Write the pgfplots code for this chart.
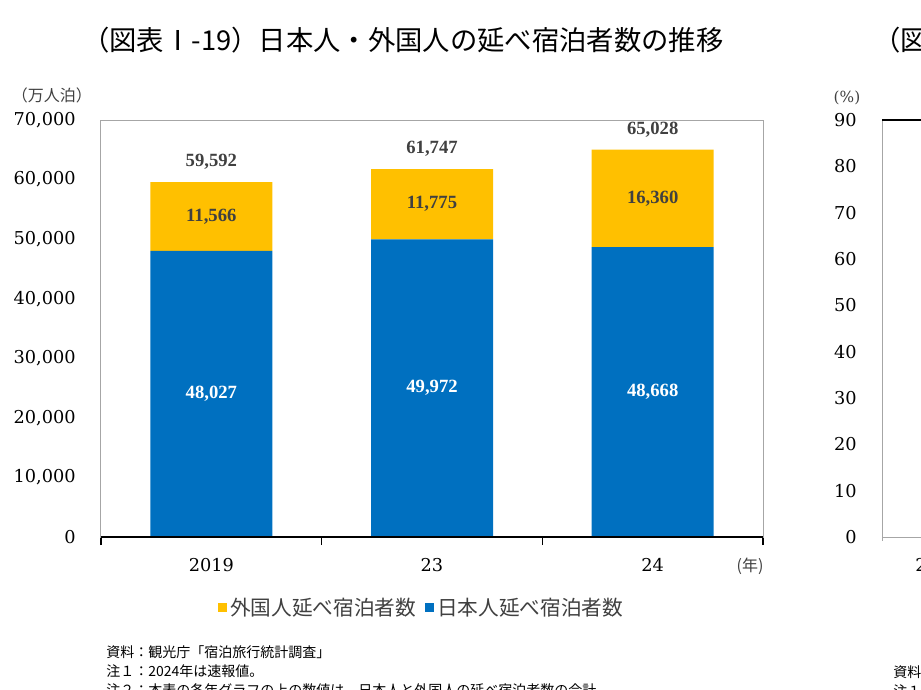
\documentclass[border=0pt]{standalone}
\usepackage{pgfplots}
\pgfplotsset{compat=1.18}
\usepackage{pgfplotstable}
\usepackage{fontspec}
\setmainfont{DejaVu Serif}
\newfontfamily\jp{Noto Sans CJK JP}
\newfontfamily\lbf{Liberation Serif}
\definecolor{blu}{HTML}{0070C0}
\definecolor{yel}{HTML}{FFC000}
\definecolor{lbl}{HTML}{404040}
\definecolor{frm}{HTML}{A6A6A6}
\newcommand{\tickf}{\fontsize{13.3pt}{14pt}\selectfont}
\newcommand{\lblf}{\lbf\bfseries\fontsize{14pt}{15pt}\selectfont}

\pgfplotstableread{
x jp fo
0 48027 11566
1 49972 11775
2 48668 16360
}\data

\begin{document}
\begin{tikzpicture}
\path[use as bounding box] (0pt,0pt) rectangle (690.75pt,-516.75pt);
\clip (0pt,0pt) rectangle (690.75pt,-516.75pt);

% main chart
\begin{axis}[
  at={(75.75pt,-402.75pt)}, anchor=south west,
  width=496.5pt, height=312.75pt, scale only axis,
  ybar stacked, bar width=91.5pt,
  xmin=-0.5, xmax=2.5, ymin=0, ymax=70000,
  xtick={0,1,2}, xticklabels={2019,23,24},
  minor xtick={-0.5,0.5,1.5,2.5},
  ytick={0,10000,...,70000},
  scaled y ticks=false,
  /pgf/number format/.cd, 1000 sep={,}, assume math mode=true, /pgfplots/.cd,
  major tick length=0pt, minor tick length=6pt,
  tick align=outside, xtick pos=bottom, ytick pos=left,
  minor x tick style={black, line width=0.9pt},
  axis line style={frm, line width=0.75pt},
  yticklabel style={font=\tickf, anchor=east, inner sep=0pt, xshift=-18.75pt},
  xticklabel style={font=\tickf, anchor=center, inner sep=0pt, yshift=-21pt},
  legend style={at={(0.485,-0.17)}, anchor=center, draw=none, fill=none,
    legend columns=2, font=\jp\fontsize{15.5pt}{16pt}\selectfont, text=lbl,
    /tikz/every even column/.append style={column sep=5pt}},
  clip=false,
]
\addlegendimage{fill=yel, draw=none, legend image code/.code={\fill[yel] (0pt,-3.4pt) rectangle (6.8pt,3.4pt);}}
\addlegendentry{外国人延べ宿泊者数}
\addlegendimage{fill=blu, draw=none, legend image code/.code={\fill[blu] (0pt,-3.4pt) rectangle (6.8pt,3.4pt);}}
\addlegendentry{日本人延べ宿泊者数}
\addplot[fill=blu, draw=none] table[x=x, y=jp] {\data};
\addplot[fill=yel, draw=none] table[x=x, y=fo] {\data};
\coordinate (bl) at (rel axis cs:0,0);
\coordinate (br) at (rel axis cs:1,0);
\coordinate (j0) at (axis cs:0,24013.5);
\coordinate (j1) at (axis cs:1,24986);
\coordinate (j2) at (axis cs:2,24334);
\coordinate (f0) at (axis cs:0,53810);
\coordinate (f1) at (axis cs:1,55859.5);
\coordinate (f2) at (axis cs:2,56848);
\coordinate (t0) at (axis cs:0,59593);
\coordinate (t1) at (axis cs:1,61747);
\coordinate (t2) at (axis cs:2,65028);
\end{axis}
\draw[black, line width=1.5pt] (bl) -- (br);
\node[font=\lblf, text=white] at (j0) {48,027};
\node[font=\lblf, text=white] at (j1) {49,972};
\node[font=\lblf, text=white] at (j2) {48,668};
\node[font=\lblf, text=lbl] at (f0) {11,566};
\node[font=\lblf, text=lbl] at (f1) {11,775};
\node[font=\lblf, text=lbl] at (f2) {16,360};
\node[font=\lblf, text=lbl, yshift=15pt] at (t0) {59,592};
\node[font=\lblf, text=lbl, yshift=15pt] at (t1) {61,747};
\node[font=\lblf, text=lbl, yshift=15pt] at (t2) {65,028};

% partial right chart
\begin{axis}[
  at={(661.5pt,-402.75pt)}, anchor=south west,
  width=300pt, height=312.75pt, scale only axis,
  xmin=0, xmax=1, ymin=0, ymax=90,
  xtick=\empty, ytick={0,10,...,90},
  /pgf/number format/assume math mode=true,
  major tick length=0pt,
  axis line style={frm, line width=0.75pt},
  yticklabel style={font=\tickf, anchor=east, inner sep=0pt, xshift=-18.75pt},
  clip=false,
]
\draw[black, line width=0.9pt] (rel axis cs:0,1) -- (rel axis cs:1,1);
\draw[frm, line width=0.75pt] (rel axis cs:0,0) -- ++(0pt,-3pt);
\end{axis}

\begin{scope}[x=0.75pt,y=-0.75pt]
\node[anchor=west, font=\jp\fontsize{20.5pt}{21pt}\selectfont, inner sep=0pt] at (82,40) {（図表Ⅰ-19）日本人・外国人の延べ宿泊者数の推移};
\node[anchor=west, font=\jp\fontsize{20.5pt}{21pt}\selectfont, inner sep=0pt] at (873,40) {（図表Ⅰ-20）日本人・外国人の延べ宿泊者数};
\node[font=\jp\fontsize{12pt}{13pt}\selectfont, text=lbl, inner sep=0pt] at (52,95) {（万人泊）};
\node[font=\jp\fontsize{12pt}{13pt}\selectfont, text=lbl, inner sep=0pt] at (750,566) {(年)};
\node[font=\fontsize{11.5pt}{12pt}\selectfont, text=lbl, inner sep=0pt] at (847,98) {(\%)};
\node[anchor=west, font=\tickf, inner sep=0pt] at (915,565) {2019};
\node[anchor=west, font=\jp\fontsize{10.5pt}{11pt}\selectfont, inner sep=0pt] at (106,652) {資料：観光庁「宿泊旅行統計調査」};
\node[anchor=west, font=\jp\fontsize{10.5pt}{11pt}\selectfont, inner sep=0pt] at (106,671) {注１：2024年は速報値。};
\node[anchor=west, font=\jp\fontsize{10.5pt}{11pt}\selectfont, inner sep=0pt] at (106,690) {注２：本表の各年グラフの上の数値は、日本人と外国人の延べ宿泊者数の合計。};
\node[anchor=west, font=\jp\fontsize{10.5pt}{11pt}\selectfont, inner sep=0pt] at (893,672) {資料：観光庁「宿泊旅行統計調査」};
\node[anchor=west, font=\jp\fontsize{10.5pt}{11pt}\selectfont, inner sep=0pt] at (893,691) {注１：2024年は速報値。};
\end{scope}
\end{tikzpicture}
\end{document}
